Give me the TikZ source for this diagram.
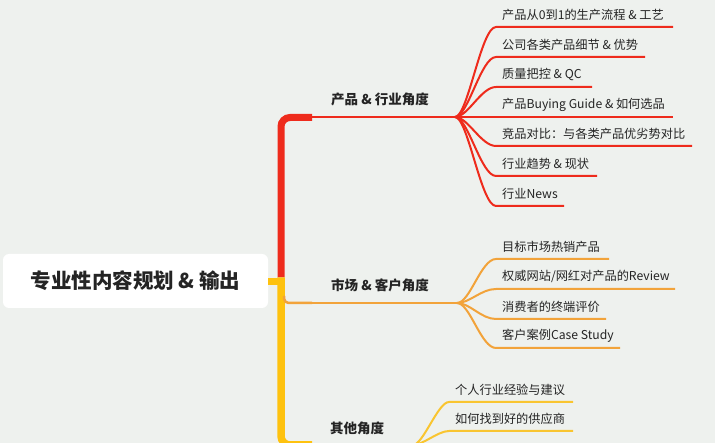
\documentclass[tikz,border=0pt]{standalone}
\usepackage{fontspec}
\setmainfont{Noto Sans CJK SC}
\definecolor{bg}{HTML}{EEF1EE}
\definecolor{cred}{HTML}{EE2B1C}
\definecolor{corange}{HTML}{F2A33A}
\definecolor{cyellow}{HTML}{FEC20F}
\definecolor{cyline}{HTML}{F9C530}
\definecolor{txt}{HTML}{242424}
\tikzset{
  rootbox/.style={fill=white, rounded corners=6pt, minimum width=265pt, minimum height=54pt, inner sep=0pt, text=txt, font=\bfseries\fontsize{20.5}{24}\selectfont},
  branchlabel/.style={text=txt, inner sep=0pt, font=\bfseries\fontsize{13.5}{16}\selectfont},
  leaf/.style={anchor=west, text=txt, inner sep=0pt, font=\fontsize{12.2}{14}\selectfont},
  redline/.style={draw=cred, line width=2pt},
  orangeline/.style={draw=corange, line width=2pt},
  yellowline/.style={draw=cyline, line width=2pt},
}
% #1 name, #2 fork, #3 line style, #4 underline y, #5 curve end x, #6 underline end x, #7 text, #8 ctrl1, #9 ctrl2
\newcommand\mkleaf[9]{%
  \coordinate (#1s) at (#5,#4);
  \coordinate (#1e) at (#6,#4);
  \node[leaf] (#1) at (#5+6,#4-12.5) {#7};
  \draw[#3] (#2) .. controls +(#8,0) and +(-#9,0) .. (#1s) -- (#1e);
}
\begin{document}
\begin{tikzpicture}[x=1pt,y=-1pt]
\useasboundingbox (0,0) rectangle (715,443);
\fill[bg] (0,0) rectangle (715,443);
\clip (0,0) rectangle (715,443);

% root
\node[rootbox] (root) at (135.5,281) {专业性内容规划 \& 输出};

% forks
\coordinate (f1) at (455,117);
\coordinate (f2) at (457,303);
\coordinate (f3) at (413,445);
\coordinate (t1) at (281,277.5);

% red trunk and branch
\draw[cred, line width=7pt, rounded corners=9pt] (312,117.5) -- (281,117.5) -- (t1);
\draw[redline] (306,117) -- (f1);
% yellow trunk
\draw[cyellow, line width=7.5pt, rounded corners=9pt] (t1) -- (281,445) -- (312,445);
\draw[cyellow, line width=7pt] (root.east |- 0,281.5) -- (281,281.5);
\draw[yellowline] (306,445) -- (f3);
% orange branch
\draw[corange, line width=2.5pt, rounded corners=4pt] (284,296) -- (284.5,303) -- (312,303);
\draw[orangeline] (306,303) -- (f2);

% branch labels
\node[branchlabel] (b1) at (380,99) {产品 \& 行业角度};
\node[branchlabel] (b2) at (380,285) {市场 \& 客户角度};
\node[branchlabel] (b3) at (357,428) {其他角度};

% red leaves
\mkleaf{r1}{f1}{redline}{27}{496}{673}{产品从0到1的生产流程 \& 工艺}{13}{15}
\mkleaf{r2}{f1}{redline}{57}{496}{645}{公司各类产品细节 \& 优势}{13}{15}
\mkleaf{r3}{f1}{redline}{87}{496}{592}{质量把控 \& QC}{13}{15}
\mkleaf{r4}{f1}{redline}{117}{496}{673}{产品Buying Guide \& 如何选品}{13}{15}
\mkleaf{r5}{f1}{redline}{146}{496}{692}{竞品对比：与各类产品优劣势对比}{13}{15}
\mkleaf{r6}{f1}{redline}{176}{496}{597}{行业趋势 \& 现状}{13}{15}
\mkleaf{r7}{f1}{redline}{206}{496}{564}{行业News}{13}{15}

% orange leaves
\mkleaf{o1}{f2}{orangeline}{259}{496}{609}{目标市场热销产品}{13}{15}
\mkleaf{o2}{f2}{orangeline}{289}{496}{675}{权威网站/网红对产品的Review}{13}{15}
\mkleaf{o3}{f2}{orangeline}{319}{496}{606}{消费者的终端评价}{13}{15}
\mkleaf{o4}{f2}{orangeline}{348}{496}{620}{客户案例Case Study}{13}{15}

% yellow leaves
\mkleaf{y1}{f3}{yellowline}{402}{449}{573}{个人行业经验与建议}{10}{11}
\mkleaf{y2}{f3}{yellowline}{431}{449}{573}{如何找到好的供应商}{10}{11}
\coordinate (y3s) at (449,460);
\draw[yellowline] (f3) .. controls +(10,0) and +(-11,0) .. (y3s);
\end{tikzpicture}
\end{document}
